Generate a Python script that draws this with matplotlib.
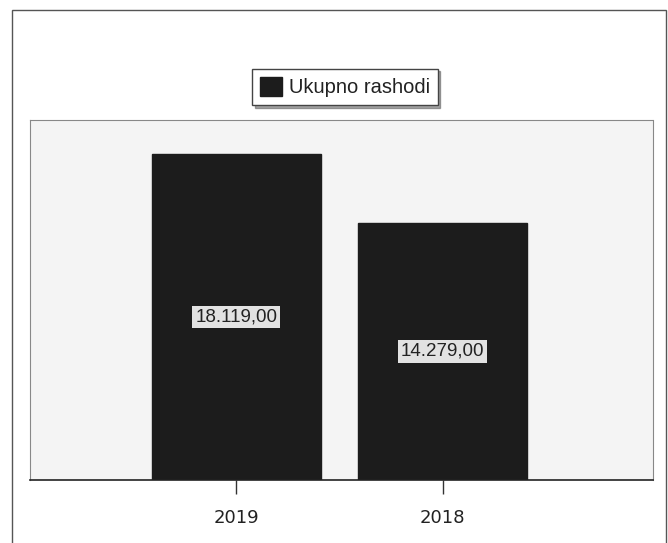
import matplotlib
matplotlib.use("Agg")
import matplotlib.pyplot as plt
from matplotlib.patches import Rectangle

categories = ["2019", "2018"]
values = [18119.00, 14279.00]
value_labels = ["18.119,00", "14.279,00"]
legend_label = "Ukupno rashodi"

W, H = 668, 543
fig = plt.figure(figsize=(W / 100, H / 100), dpi=100)
fig.patch.set_facecolor("white")

# outer frame
fig.patches.append(Rectangle((12 / W, -0.05), (666 - 12) / W, 1 - 10 / H + 0.05,
                             transform=fig.transFigure, fill=False,
                             edgecolor="#555555", linewidth=1.0, zorder=0))

ax = fig.add_axes([30 / W, 1 - 480 / H, (653 - 30) / W, (480 - 120) / H])
ax.set_facecolor("#f4f4f4")
x = list(range(len(categories)))
bars = ax.bar(x, values, width=0.82, color="#1c1c1c", edgecolor="#1c1c1c", zorder=2)
ax.set_xlim(-1.0, 2.02)
ax.set_ylim(0, 20000)
ax.set_yticks([])
ax.set_xticks(x)
ax.set_xticklabels(categories, fontsize=13, family="DejaVu Sans", color="#222222")
ax.tick_params(axis="x", length=10, width=1.0, color="#333333", pad=11)

for s in ["top", "left", "right"]:
    ax.spines[s].set_color("#888888")
    ax.spines[s].set_linewidth(0.8)
    ax.spines[s].set_linestyle((0, (2, 1)))
ax.spines["bottom"].set_color("#222222")
ax.spines["bottom"].set_linewidth(1.2)

for xi, v, lab in zip(x, values, value_labels):
    ax.text(xi, v / 2, lab, ha="center", va="center", fontsize=13.5,
            family="Liberation Sans", color="#222222", zorder=3,
            bbox=dict(boxstyle="square,pad=0.15", facecolor="#e2e2e2", edgecolor="none"))

leg = fig.legend([bars[0]], [legend_label], loc="center",
                 bbox_to_anchor=(345 / W, 1 - 87 / H), frameon=True,
                 prop={"family": "Liberation Sans", "size": 14.5}, fancybox=False,
                 shadow=True, handlelength=1.1, handleheight=1.1, handletextpad=0.3,
                 borderpad=0.4, borderaxespad=0, labelcolor="#222222")
leg.get_frame().set_edgecolor("#444444")
leg.get_frame().set_linewidth(1.0)

fig.savefig("out.png", dpi=100)
